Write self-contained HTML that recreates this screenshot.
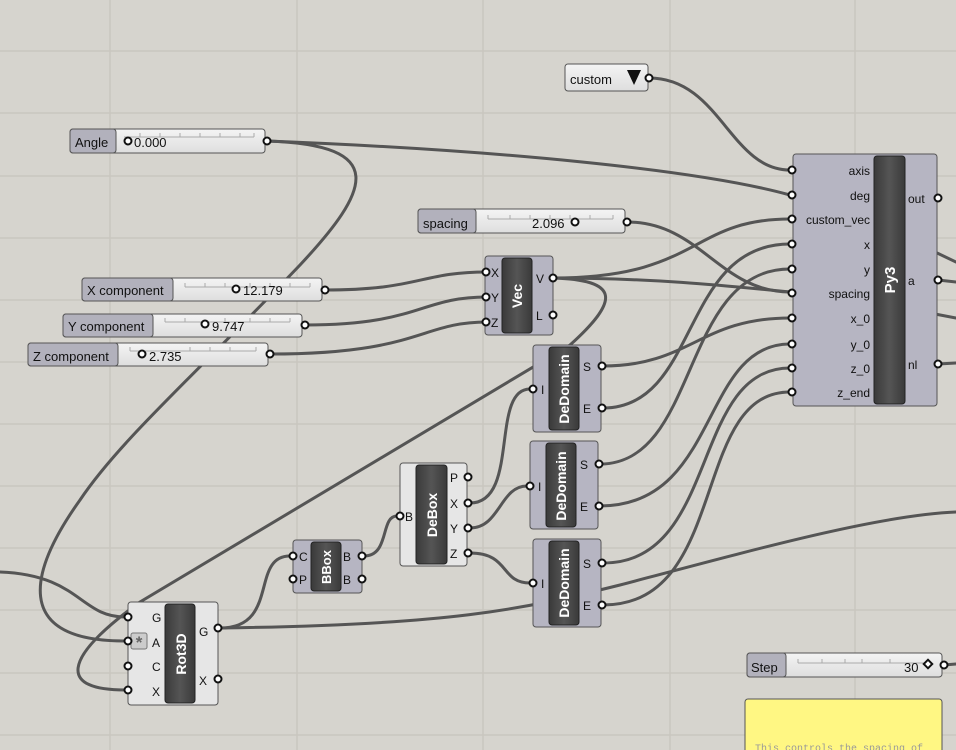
<!DOCTYPE html>
<html><head><meta charset="utf-8"><style>
body{margin:0;width:956px;height:750px;overflow:hidden;background:#d6d4ce;font-family:"Liberation Sans",sans-serif}
svg{display:block}
</style></head><body>
<svg width="956" height="750" viewBox="0 0 956 750" xmlns="http://www.w3.org/2000/svg" font-family="Liberation Sans, sans-serif">
<defs>
<linearGradient id="sl" x1="0" y1="0" x2="0" y2="1"><stop offset="0" stop-color="#f4f4f4"/><stop offset="1" stop-color="#dedede"/></linearGradient>
<linearGradient id="dk" x1="0" y1="0" x2="1" y2="0"><stop offset="0" stop-color="#3a3a3a"/><stop offset="0.5" stop-color="#555"/><stop offset="1" stop-color="#3a3a3a"/></linearGradient>
</defs>
<rect width="956" height="750" fill="#d6d4ce"/>
<g stroke="#c9c6bf" stroke-width="1.5">
<line x1="110" y1="0" x2="110" y2="750"/><line x1="297" y1="0" x2="297" y2="750"/><line x1="483" y1="0" x2="483" y2="750"/><line x1="670" y1="0" x2="670" y2="750"/><line x1="855" y1="0" x2="855" y2="750"/>
<line x1="0" y1="51" x2="956" y2="51"/><line x1="0" y1="113" x2="956" y2="113"/><line x1="0" y1="176" x2="956" y2="176"/><line x1="0" y1="238" x2="956" y2="238"/><line x1="0" y1="300" x2="956" y2="300"/><line x1="0" y1="362" x2="956" y2="362"/><line x1="0" y1="424" x2="956" y2="424"/><line x1="0" y1="486" x2="956" y2="486"/><line x1="0" y1="548" x2="956" y2="548"/><line x1="0" y1="610" x2="956" y2="610"/><line x1="0" y1="673" x2="956" y2="673"/><line x1="0" y1="735" x2="956" y2="735"/>
</g>
<g fill="none" stroke="#555" stroke-width="3" stroke-linecap="round">
<path d="M649,78 C720,78 730,170 790,170"/>
<path d="M267,141 C500,150 700,170 790,195"/>
<path d="M267,141 C390,145 370,190 300,265 C200,370 120,440 80,500 C30,570 10,641 125,641"/>
<path d="M553,278 C700,278 690,219 790,219"/>
<path d="M553,278 C650,278 720,285 790,292"/>
<path d="M553,278 C620,280 620,300 570,345 L140,602 C60,660 60,690 125,690"/>
<path d="M627,222 C700,222 720,292 790,292"/>
<path d="M325,290 C420,290 420,272 487,272"/>
<path d="M305,325 C420,325 420,297 487,297"/>
<path d="M270,354 C420,354 420,322 487,322"/>
<path d="M603,366 C690,366 700,318 790,318"/>
<path d="M603,408 C700,408 680,244 790,244"/>
<path d="M600,464 C700,464 680,269 790,269"/>
<path d="M600,506 C720,506 700,344 790,344"/>
<path d="M603,563 C720,563 690,368 790,368"/>
<path d="M603,605 C730,605 690,392 790,392"/>
<path d="M0,572 C80,575 80,617 125,617"/>
<path d="M220,628 C450,625 520,610 620,585 C760,548 880,515 956,512"/>
<path d="M220,628 C280,628 250,556 290,556"/>
<path d="M364,556 C390,556 380,516 397,516"/>
<path d="M470,503 C520,503 490,389 530,389"/>
<path d="M470,528 C500,528 500,486 527,486"/>
<path d="M470,553 C510,553 500,583 530,583"/>
<path d="M938,280 L956,282"/><path d="M938,364 L956,363"/><path d="M935,252 L956,262"/><path d="M935,314 L956,318"/><path d="M944,665 L956,664"/>
</g>
<rect x="565" y="64" width="83" height="27" rx="3" fill="url(#sl)" stroke="#555"/>
<text x="570" y="84" font-size="13" fill="#111">custom</text>
<polygon points="627,70 641,70 634,85" fill="#111"/>
<g font-size="13" fill="#111">
<g><rect x="70" y="129" width="195" height="24" rx="3" fill="url(#sl)" stroke="#555"/><rect x="70" y="129" width="46" height="24" rx="3" fill="#b2b1bc" stroke="#555"/><path d="M124,137H254 M140,133v4 M160,133v4 M180,133v4 M200,133v4 M220,133v4 M240,133v4 M254,133v4" stroke="#aaa" fill="none"/><text x="75" y="147">Angle</text><circle cx="128" cy="141" r="3.5" fill="#fff" stroke="#111" stroke-width="2"/><text x="134" y="147">0.000</text></g>
<g><rect x="418" y="209" width="207" height="24" rx="3" fill="url(#sl)" stroke="#555"/><rect x="418" y="209" width="58" height="24" rx="3" fill="#b2b1bc" stroke="#555"/><path d="M488,219H613 M488,215v4 M510,215v4 M530,215v4 M550,215v4 M570,215v4 M590,215v4 M613,215v4" stroke="#aaa" fill="none"/><text x="423" y="228">spacing</text><text x="532" y="228">2.096</text><circle cx="575" cy="222" r="3.5" fill="#fff" stroke="#111" stroke-width="2"/></g>
<g><rect x="82" y="278" width="240" height="23" rx="3" fill="url(#sl)" stroke="#555"/><rect x="82" y="278" width="91" height="23" rx="3" fill="#b2b1bc" stroke="#555"/><path d="M185,287H310 M185,283v4 M205,283v4 M225,283v4 M250,283v4 M270,283v4 M290,283v4 M310,283v4" stroke="#aaa" fill="none"/><text x="87" y="295">X component</text><circle cx="236" cy="289" r="3.5" fill="#fff" stroke="#111" stroke-width="2"/><text x="243" y="295">12.179</text></g>
<g><rect x="63" y="314" width="239" height="23" rx="3" fill="url(#sl)" stroke="#555"/><rect x="63" y="314" width="90" height="23" rx="3" fill="#b2b1bc" stroke="#555"/><path d="M165,322H290 M165,318v4 M185,318v4 M225,318v4 M250,318v4 M270,318v4 M290,318v4" stroke="#aaa" fill="none"/><text x="68" y="331">Y component</text><circle cx="205" cy="324" r="3.5" fill="#fff" stroke="#111" stroke-width="2"/><text x="212" y="331">9.747</text></g>
<g><rect x="28" y="343" width="240" height="23" rx="3" fill="url(#sl)" stroke="#555"/><rect x="28" y="343" width="90" height="23" rx="3" fill="#b2b1bc" stroke="#555"/><path d="M130,351H256 M130,347v4 M190,347v4 M210,347v4 M230,347v4 M256,347v4" stroke="#aaa" fill="none"/><text x="33" y="361">Z component</text><circle cx="142" cy="354" r="3.5" fill="#fff" stroke="#111" stroke-width="2"/><text x="149" y="361">2.735</text></g>
<g><rect x="747" y="653" width="195" height="24" rx="3" fill="url(#sl)" stroke="#555"/><rect x="747" y="653" width="39" height="24" rx="3" fill="#b2b1bc" stroke="#555"/><path d="M798,663H930 M798,659v4 M822,659v4 M845,659v4 M862,659v4 M890,659v4" stroke="#aaa" fill="none"/><text x="751" y="672">Step</text><text x="904" y="672">30</text><rect x="925" y="661" width="6" height="6" transform="rotate(45 928 664)" fill="#fff" stroke="#111" stroke-width="2"/></g>
</g>
<g font-size="12" fill="#111">
<rect x="793" y="154" width="144" height="252" rx="3" fill="#b6b5c2" stroke="#555"/>
<rect x="874" y="156" width="31" height="248" rx="3" fill="url(#dk)" stroke="#222"/>
<text transform="translate(895,280) rotate(-90)" text-anchor="middle" font-size="15" font-weight="bold" fill="#fff">Py3</text>
<g text-anchor="end"><text x="870" y="175">axis</text><text x="870" y="200">deg</text><text x="870" y="224">custom_vec</text><text x="870" y="249">x</text><text x="870" y="274">y</text><text x="870" y="298">spacing</text><text x="870" y="323">x_0</text><text x="870" y="349">y_0</text><text x="870" y="373">z_0</text><text x="870" y="397">z_end</text></g>
<text x="908" y="203">out</text><text x="908" y="285">a</text><text x="908" y="369">nl</text>
<rect x="485" y="256" width="68" height="79" rx="3" fill="#b6b5c2" stroke="#555"/>
<rect x="502" y="258" width="30" height="75" rx="3" fill="url(#dk)" stroke="#222"/>
<text transform="translate(522,296) rotate(-90)" text-anchor="middle" font-size="14" font-weight="bold" fill="#fff">Vec</text>
<text x="491" y="277">X</text><text x="491" y="302">Y</text><text x="491" y="327">Z</text><text x="536" y="283">V</text><text x="536" y="320">L</text>
<g><rect x="533" y="345" width="68" height="87" rx="3" fill="#b6b5c2" stroke="#555"/><rect x="549" y="347" width="30" height="83" rx="3" fill="url(#dk)" stroke="#222"/><text transform="translate(569,389) rotate(-90)" text-anchor="middle" font-size="14" font-weight="bold" fill="#fff">DeDomain</text><text x="541" y="394">I</text><text x="583" y="371">S</text><text x="583" y="413">E</text></g>
<g><rect x="530" y="441" width="68" height="88" rx="3" fill="#b6b5c2" stroke="#555"/><rect x="546" y="443" width="30" height="84" rx="3" fill="url(#dk)" stroke="#222"/><text transform="translate(566,486) rotate(-90)" text-anchor="middle" font-size="14" font-weight="bold" fill="#fff">DeDomain</text><text x="538" y="491">I</text><text x="580" y="469">S</text><text x="580" y="511">E</text></g>
<g><rect x="533" y="539" width="68" height="88" rx="3" fill="#b6b5c2" stroke="#555"/><rect x="549" y="541" width="30" height="84" rx="3" fill="url(#dk)" stroke="#222"/><text transform="translate(569,583) rotate(-90)" text-anchor="middle" font-size="14" font-weight="bold" fill="#fff">DeDomain</text><text x="541" y="588">I</text><text x="583" y="568">S</text><text x="583" y="610">E</text></g>
<rect x="400" y="463" width="67" height="103" rx="3" fill="#e6e6e6" stroke="#555"/>
<rect x="416" y="465" width="31" height="99" rx="3" fill="url(#dk)" stroke="#222"/>
<text transform="translate(437,515) rotate(-90)" text-anchor="middle" font-size="14" font-weight="bold" fill="#fff">DeBox</text>
<text x="405" y="521">B</text><text x="450" y="482">P</text><text x="450" y="508">X</text><text x="450" y="533">Y</text><text x="450" y="558">Z</text>
<rect x="293" y="540" width="69" height="53" rx="3" fill="#b6b5c2" stroke="#555"/>
<rect x="311" y="542" width="30" height="49" rx="3" fill="url(#dk)" stroke="#222"/>
<text transform="translate(331,567) rotate(-90)" text-anchor="middle" font-size="13" font-weight="bold" fill="#fff">BBox</text>
<text x="299" y="561">C</text><text x="299" y="584">P</text><text x="343" y="561">B</text><text x="343" y="584">B</text>
<rect x="128" y="602" width="90" height="103" rx="3" fill="#e6e6e6" stroke="#555"/>
<rect x="165" y="604" width="30" height="99" rx="3" fill="url(#dk)" stroke="#222"/>
<text transform="translate(186,654) rotate(-90)" text-anchor="middle" font-size="14" font-weight="bold" fill="#fff">Rot3D</text>
<text x="152" y="622">G</text><text x="152" y="647">A</text><text x="152" y="671">C</text><text x="152" y="696">X</text><text x="199" y="636">G</text><text x="199" y="685">X</text>
<rect x="131" y="633" width="16" height="16" rx="2" fill="#ccc" stroke="#777"/><text x="139" y="648" text-anchor="middle" font-size="17" font-weight="bold" fill="#666">*</text>
</g>
<g fill="#fff" stroke="#111" stroke-width="2">
<circle cx="649" cy="78" r="3.5"/><circle cx="267" cy="141" r="3.5"/><circle cx="627" cy="222" r="3.5"/><circle cx="325" cy="290" r="3.5"/><circle cx="305" cy="325" r="3.5"/><circle cx="270" cy="354" r="3.5"/><circle cx="944" cy="665" r="3.5"/>
<circle cx="792" cy="170" r="3.5"/><circle cx="792" cy="195" r="3.5"/><circle cx="792" cy="219" r="3.5"/><circle cx="792" cy="244" r="3.5"/><circle cx="792" cy="269" r="3.5"/><circle cx="792" cy="293" r="3.5"/><circle cx="792" cy="318" r="3.5"/><circle cx="792" cy="344" r="3.5"/><circle cx="792" cy="368" r="3.5"/><circle cx="792" cy="392" r="3.5"/>
<circle cx="938" cy="198" r="3.5"/><circle cx="938" cy="280" r="3.5"/><circle cx="938" cy="364" r="3.5"/>
<circle cx="486" cy="272" r="3.5"/><circle cx="486" cy="297" r="3.5"/><circle cx="486" cy="322" r="3.5"/><circle cx="553" cy="278" r="3.5"/><circle cx="553" cy="315" r="3.5"/>
<circle cx="533" cy="389" r="3.5"/><circle cx="602" cy="366" r="3.5"/><circle cx="602" cy="408" r="3.5"/>
<circle cx="530" cy="486" r="3.5"/><circle cx="599" cy="464" r="3.5"/><circle cx="599" cy="506" r="3.5"/>
<circle cx="533" cy="583" r="3.5"/><circle cx="602" cy="563" r="3.5"/><circle cx="602" cy="605" r="3.5"/>
<circle cx="400" cy="516" r="3.5"/><circle cx="468" cy="477" r="3.5"/><circle cx="468" cy="503" r="3.5"/><circle cx="468" cy="528" r="3.5"/><circle cx="468" cy="553" r="3.5"/>
<circle cx="293" cy="556" r="3.5"/><circle cx="293" cy="579" r="3.5"/><circle cx="362" cy="556" r="3.5"/><circle cx="362" cy="579" r="3.5"/>
<circle cx="128" cy="617" r="3.5"/><circle cx="128" cy="641" r="3.5"/><circle cx="128" cy="666" r="3.5"/><circle cx="128" cy="690" r="3.5"/><circle cx="218" cy="628" r="3.5"/><circle cx="218" cy="679" r="3.5"/>
</g>
<rect x="745" y="699" width="197" height="60" rx="3" fill="#fff783" stroke="#555"/>
<text x="755" y="751" font-family="Liberation Mono, monospace" font-size="10" fill="#999">This controls the spacing of</text>
</svg>
</body></html>
